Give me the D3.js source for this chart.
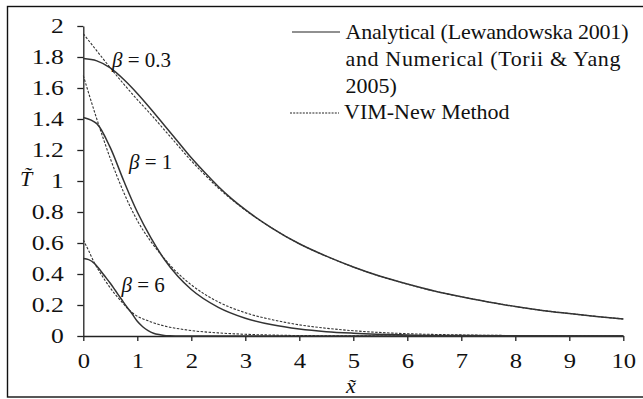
<!DOCTYPE html>
<html><head><meta charset="utf-8">
<script src="https://cdn.jsdelivr.net/npm/d3@7"></script>
<style>
html,body{margin:0;padding:0;background:#fff;}
svg{display:block;font-family:"Liberation Serif","Times New Roman",serif;}
</style></head>
<body><svg id="c" width="643" height="399"></svg>
<script>
// ---- data ----
const xB03 = [0,0.25,0.5,0.75,1,1.25,1.5,1.75,2,2.25,2.5,2.75,3,3.5,4,4.5,5,5.5,6,6.5,7,7.5,8,8.5,9,9.5,10];
const analytic03 = [1.79,1.775,1.73,1.655,1.565,1.465,1.36,1.255,1.15,1.055,0.965,0.885,0.815,0.695,0.595,0.515,0.445,0.385,0.335,0.29,0.253,0.22,0.19,0.165,0.145,0.126,0.11];
const vim03      = [1.95,1.84,1.73,1.625,1.525,1.43,1.33,1.23,1.13,1.04,0.955,0.88,0.812,0.695,0.595,0.515,0.445,0.385,0.335,0.29,0.253,0.22,0.19,0.165,0.145,0.126,0.11];

const xB1 = [0,0.25,0.5,0.75,1,1.25,1.5,1.75,2,2.5,3,3.5,4,4.5,5,6,7,8,9,10];
const analytic1 = [1.41,1.37,1.215,1.0,0.80,0.635,0.495,0.385,0.30,0.185,0.115,0.072,0.045,0.028,0.018,0.007,0.003,0.001,0,0];
const vim1      = [1.68,1.40,1.145,0.925,0.745,0.61,0.50,0.405,0.33,0.22,0.15,0.105,0.072,0.05,0.034,0.015,0.007,0.003,0.001,0];

const xB6 = [0,0.1,0.2,0.3,0.4,0.5,0.6,0.7,0.8,0.9,1.0,1.1,1.2,1.3,1.4,1.5,1.6,1.8,2,2.5,3,3.5,4,5,6,7,8,9,10];
const analytic6 = [0.50,0.493,0.47,0.43,0.385,0.34,0.29,0.24,0.19,0.145,0.095,0.06,0.035,0.018,0.009,0.004,0.002,0,0,0,0,0,0,0,0,0,0,0,0];
const vim6      = [0.62,0.55,0.475,0.415,0.36,0.31,0.265,0.225,0.185,0.152,0.128,0.112,0.098,0.085,0.074,0.065,0.057,0.045,0.035,0.02,0.011,0.006,0.003,0.001,0,0,0,0,0];

const xTicks = [0,1,2,3,4,5,6,7,8,9,10];
const yTicks = [0,0.2,0.4,0.6,0.8,1,1.2,1.4,1.6,1.8,2];
const betaLabels = ["0.3","1","6"];
const legendSolid = ["Analytical (Lewandowska 2001)","and Numerical (Torii & Yang","2005)"];
const legendDashed = "VIM-New Method";

// ---- drawing ----
const svg = d3.select("#c");
const x = d3.scaleLinear().domain([0,10]).range([83.3,623.3]);
const y = d3.scaleLinear().domain([0,2]).range([336,26]);
const ink = "#222";
const serif = "'Liberation Serif','Times New Roman',serif";

svg.append("rect").attr("x",7.5).attr("y",6.5).attr("width",640).attr("height",390.5)
  .attr("fill","none").attr("stroke","#111").attr("stroke-width",1.4);

const yAxis = svg.append("g").attr("transform","translate(83.3,0)")
  .call(d3.axisLeft(y).tickValues(yTicks).tickSizeOuter(0).tickSizeInner(6)
        .tickFormat(d=>String(+d.toFixed(1))));
const xAxis = svg.append("g").attr("transform","translate(0,336)")
  .call(d3.axisBottom(x).tickValues(xTicks).tickSizeOuter(0).tickSizeInner(5)
        .tickFormat(d=>String(d)));
[yAxis,xAxis].forEach(g=>{
  g.selectAll("path.domain").attr("stroke",ink).attr("stroke-width",1.3);
  g.selectAll(".tick line").attr("stroke",ink).attr("stroke-width",1.3);
  g.selectAll(".tick text").attr("fill","#111").style("font-family",serif);
});
// tick label geometry (slightly wide lettering as in the reference)
yAxis.selectAll(".tick text").attr("x",0).attr("dy","0.34em").style("font-size","20px")
  .attr("transform","translate(-19.5,0) scale(1.28,1)");
xAxis.selectAll(".tick text").attr("y",0).attr("dy","0.71em").style("font-size","22px")
  .attr("transform","translate(0,16) scale(1.12,1)");

const line = d3.line().x(d=>x(d[0])).y(d=>y(d[1])).curve(d3.curveMonotoneX);
const series = [
  [xB03, analytic03, vim03],
  [xB1, analytic1, vim1],
  [xB6, analytic6, vim6]
];
series.forEach(([xs,a,v])=>{
  svg.append("path").datum(xs.map((d,i)=>[d,v[i]])).attr("d",line)
    .attr("fill","none").attr("stroke","#333").attr("stroke-width",1.1).attr("stroke-dasharray","2.5,1.5");
  svg.append("path").datum(xs.map((d,i)=>[d,a[i]])).attr("d",line)
    .attr("fill","none").attr("stroke","#333").attr("stroke-width",1.5);
});

// beta labels
const betaPos = [[112,66.5],[129,168.5],[121.5,291.5]];
betaLabels.forEach((b,i)=>{
  const t = svg.append("text").attr("x",betaPos[i][0]).attr("y",betaPos[i][1])
    .style("font-size","21px").attr("fill","#111");
  t.append("tspan").style("font-style","italic").text("β");
  t.append("tspan").text(" = " + b);
});

// legend
const legendWidths = [283, 275, null];
svg.append("line").attr("x1",292).attr("x2",340).attr("y1",32).attr("y2",32)
  .attr("stroke","#222").attr("stroke-width",1.2);
legendSolid.forEach((s,i)=>{
  const t = svg.append("text").attr("x",345.5).attr("y",38.5+i*27).style("font-size","22px").attr("fill","#111").text(s);
  if (legendWidths[i]) t.attr("textLength",legendWidths[i]).attr("lengthAdjust","spacing");
});
svg.append("line").attr("x1",290).attr("x2",339).attr("y1",113).attr("y2",113)
  .attr("stroke","#222").attr("stroke-width",1).attr("stroke-dasharray","2,1.2");
svg.append("text").attr("x",344).attr("y",119).style("font-size","22px").attr("fill","#111").text(legendDashed);

// axis titles
svg.append("text").attr("x",20).attr("y",186).style("font-size","22px").style("font-style","italic")
  .attr("fill","#111").text("T\u0303");
svg.append("text").attr("x",346).attr("y",393).style("font-size","22px").style("font-style","italic")
  .attr("fill","#111").text("x\u0303");
</script></body></html>
